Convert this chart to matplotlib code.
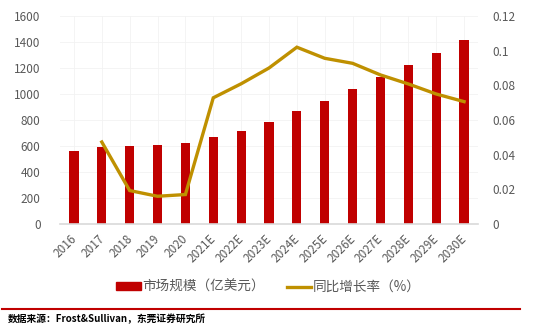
import matplotlib.pyplot as plt
import matplotlib.transforms as mtransforms
from matplotlib.lines import Line2D

plt.rcParams['font.family'] = ['Noto Sans CJK SC', 'DejaVu Sans']

years = ['2016', '2017', '2018', '2019', '2020', '2021E', '2022E', '2023E',
         '2024E', '2025E', '2026E', '2027E', '2028E', '2029E', '2030E']
market_size = [565, 590, 601, 609, 621, 669, 719, 788, 868, 950, 1040,
               1127, 1225, 1317, 1412]
growth_years = years[1:]
growth_rate = [0.0473, 0.0193, 0.016, 0.017, 0.0728, 0.0809, 0.090, 0.102,
               0.0956, 0.0927, 0.086, 0.0808, 0.075, 0.0706]

bar_color = '#C00000'
line_color = '#BF9000'
tick_color = '#595959'
grid_color = '#F2F2F2'

fig = plt.figure(figsize=(5.37, 3.26), dpi=100)
ax = fig.add_axes([60 / 537, 102 / 326, 418 / 537, 208 / 326])
x = list(range(len(years)))

ax.bar(x, market_size, width=0.33, color=bar_color, zorder=2)
ax.set_ylim(0, 1600)
ax.set_yticks(range(0, 1601, 200))
ax.set_xlim(-0.5, len(years) - 0.5)
ax.set_xticks(x)
ax.set_xticklabels(years, rotation=45, ha='right', rotation_mode='anchor')
ax.tick_params(axis='both', length=0, colors=tick_color, labelsize=8.5)
ax.tick_params(axis='x', pad=6)
ax.tick_params(axis='y', pad=14)
# nudge rotated year labels so they end under their bar
shift = mtransforms.ScaledTranslation(-4 / 100, 0, fig.dpi_scale_trans)
for lbl in ax.get_xticklabels():
    lbl.set_transform(lbl.get_transform() + shift)
ax.grid(True, color=grid_color, linewidth=0.6, zorder=0)
for side in ['top', 'right', 'left']:
    ax.spines[side].set_visible(False)
ax.spines['bottom'].set_color('#D9D9D9')
ax.spines['bottom'].set_linewidth(1.2)

ax2 = ax.twinx()
ax2.plot(x[1:], growth_rate, color=line_color, linewidth=2.4,
         solid_joinstyle='miter', zorder=3)
ax2.set_ylim(0, 0.12)
ax2.set_yticks([0, 0.02, 0.04, 0.06, 0.08, 0.1, 0.12])
ax2.set_yticklabels(['0', '0.02', '0.04', '0.06', '0.08', '0.1', '0.12'])
ax2.tick_params(axis='y', length=0, colors=tick_color, labelsize=8.5, pad=10)
for side in ['top', 'right', 'left', 'bottom']:
    ax2.spines[side].set_visible(False)

handles = [
    plt.Rectangle((0, 0), 1, 1, color=bar_color),
    Line2D([0], [0], color=line_color, linewidth=2.4),
]
fig.legend(handles, ['市场规模（亿美元）', '同比增长率（%）'],
           loc='center', bbox_to_anchor=(0.5, 1 - 287 / 326), ncol=2,
           frameon=False, fontsize=9.8, labelcolor=tick_color,
           handlelength=1.8, handleheight=0.55, columnspacing=1.6,
           handletextpad=0.1)

fig.add_artist(Line2D([2 / 537, 520 / 537], [1 - 309 / 326, 1 - 309 / 326],
                      color=bar_color, linewidth=1.5))
fig.text(8 / 537, 1 - 319 / 326, '数据来源：Frost&Sullivan，东莞证券研究所',
         fontsize=7, fontweight='bold', va='center', ha='left', color='#000000')

fig.savefig('out.png', dpi=100)
